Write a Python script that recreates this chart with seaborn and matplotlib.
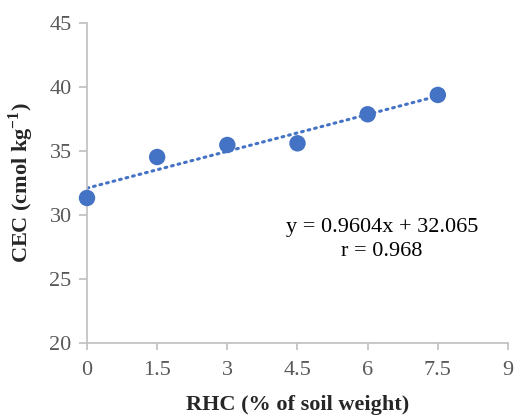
import matplotlib
matplotlib.use("Agg")
import matplotlib.pyplot as plt
import seaborn as sns
import pandas as pd

rhc = [0, 1.5, 3, 4.5, 6, 7.5]
cec = [31.33, 34.53, 35.47, 35.6, 37.87, 39.38]
x_ticks = [0, 1.5, 3, 4.5, 6, 7.5, 9]
y_ticks = [20, 25, 30, 35, 40, 45]

df = pd.DataFrame({"RHC": rhc, "CEC": cec})

sns.set_style("white")
plt.rcParams["font.family"] = ["Liberation Serif", "DejaVu Serif"]
plt.rcParams["mathtext.fontset"] = "custom"
plt.rcParams["mathtext.rm"] = "Liberation Serif"
plt.rcParams["mathtext.bf"] = "Liberation Serif:bold"

blue = "#4472C4"
fs = 16
fig = plt.figure(figsize=(5.16, 4.17), dpi=100)
ax = fig.add_axes([0.1686, 0.1775, 0.8159, 0.7673])

sns.regplot(data=df, x="RHC", y="CEC", ax=ax, scatter=False, ci=None,
            line_kws=dict(color=blue, lw=2.2, linestyle=(0, (0.6, 1.6)),
                          dash_capstyle="round"))
sns.scatterplot(data=df, x="RHC", y="CEC", ax=ax, color=blue, s=140,
                edgecolor="none", zorder=3)

ax.set_xlim(0, 9)
ax.set_ylim(20, 45)
ax.set_xticks(x_ticks)
ax.set_xticklabels(["0", "1.5", "3", "4.5", "6", "7.5", "9"])
ax.set_yticks(y_ticks)

for s in ["top", "right"]:
    ax.spines[s].set_visible(False)
for s in ["left", "bottom"]:
    ax.spines[s].set_color("#BFBFBF")
    ax.spines[s].set_linewidth(1.2)
ax.tick_params(axis="both", colors="#BFBFBF", labelcolor="#595959",
               labelsize=fs, width=1.2)
ax.tick_params(axis="x", length=5, direction="out", pad=8)
ax.tick_params(axis="y", length=6, direction="out", pad=5)
ax.tick_params(left=True, bottom=True)

ax.set_xlabel("RHC (% of soil weight)", fontsize=fs, fontweight="bold", labelpad=11)
ax.set_ylabel(r"CEC (cmol kg$^{\mathbf{-1}}$)", fontsize=fs, fontweight="bold", labelpad=10)

ax.text(6.3, 28.1, "y = 0.9604x + 32.065\nr = 0.968", ha="center", va="center",
        fontsize=fs, color="black", linespacing=1.4)

for c in ax.collections:
    c.set_clip_on(False)

fig.savefig("out.png", dpi=100)
